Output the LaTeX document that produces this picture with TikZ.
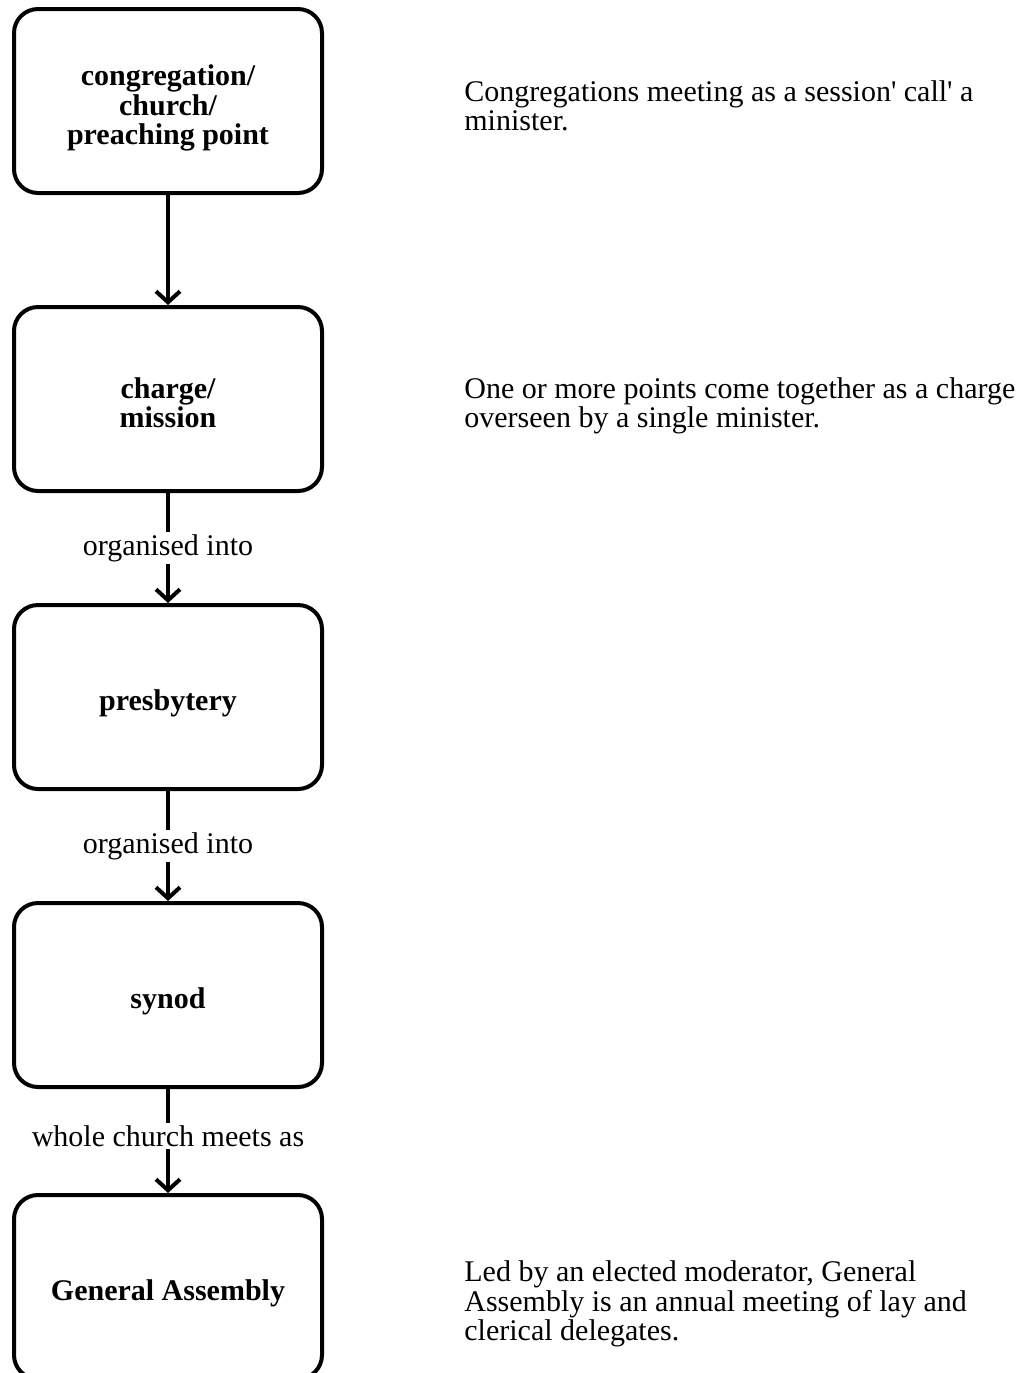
\documentclass[tikz,border=0pt]{standalone}
\usepackage{fontspec}
\setmainfont{Liberation Serif}[Ligatures=TeXOff]
\usetikzlibrary{positioning,arrows.meta}

\begin{document}
\begin{tikzpicture}[
  level/.style={draw, line width=2pt, rounded corners=12pt,
    minimum width=154pt, minimum height=92pt, align=center,
    text height=17pt,
    font=\bfseries\fontsize{15}{14.75}\selectfont},
  link/.style={line width=2pt, -{Straight Barb[length=5.5pt,width=12pt]}},
  linklabel/.style={fill=white, inner sep=1pt,
    font=\fontsize{15}{14.75}\selectfont},
  note/.style={anchor=west, align=left, inner sep=0pt,
    font=\fontsize{15}{14.75}\selectfont},
  node distance=55pt]
  \useasboundingbox (0,0) rectangle (510pt,-686.5pt);
  % the five levels
  \node[level, text height=47pt] (cong) at (84pt,-50.5pt) {congregation/\\church/\\preaching point};
  \node[level, below=of cong, text height=29pt] (charge) {charge/\\mission};
  \node[level, below=of charge] (presb) {presbytery};
  \node[level, below=of presb] (synod) {synod};
  \node[level, below=52pt of synod] (ga) {General Assembly};
  % connectors
  \draw[link] (cong) -- (charge);
  \draw[link] (charge) -- (presb) node[midway, linklabel] (l1) {organised into};
  \draw[link] (presb) -- (synod) node[midway, linklabel] (l2) {organised into};
  \draw[link] (synod) -- (ga) node[midway, linklabel, yshift=2.5pt] (l3) {whole church meets as};
  % notes on the right
  \node[note, right=70pt of cong, yshift=-2.5pt] (n1)
    {Congregations meeting as a session' call' a\\minister.};
  \node[note, right=70pt of charge, yshift=-3.5pt] (n2)
    {One or more points come together as a charge\\overseen by a single minister.};
  \node[note, right=70pt of ga, yshift=-8.5pt] (n3)
    {Led by an elected moderator, General\\Assembly is an annual meeting of lay and\\clerical delegates.};
\end{tikzpicture}
\end{document}
